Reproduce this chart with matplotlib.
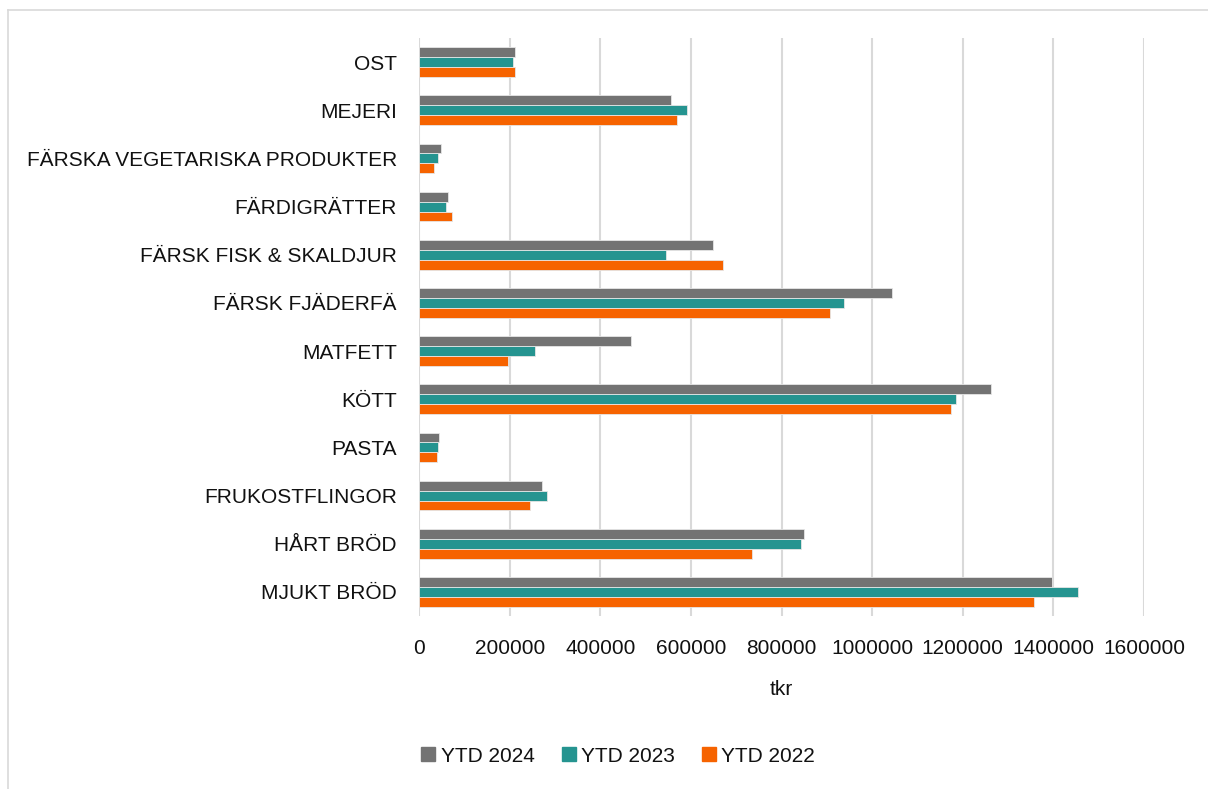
import matplotlib
matplotlib.use("Agg")
import matplotlib.pyplot as plt
import numpy as np
from matplotlib.lines import Line2D

categories = ["OST", "MEJERI", "FÄRSKA VEGETARISKA PRODUKTER", "FÄRDIGRÄTTER",
              "FÄRSK FISK & SKALDJUR", "FÄRSK FJÄDERFÄ", "MATFETT", "KÖTT",
              "PASTA", "FRUKOSTFLINGOR", "HÅRT BRÖD", "MJUKT BRÖD"]
ytd_2024 = [212000, 557000, 49000, 65000, 648000, 1044000, 468000, 1263000,
            44000, 271000, 850000, 1396000]
ytd_2023 = [208000, 592000, 43000, 60000, 546000, 938000, 255000, 1186000,
            42000, 282000, 842000, 1454000]
ytd_2022 = [211000, 570000, 32000, 73000, 671000, 906000, 197000, 1174000,
            40000, 246000, 735000, 1358000]
series_names = ["YTD 2024", "YTD 2023", "YTD 2022"]
xticks = [0, 200000, 400000, 600000, 800000, 1000000, 1200000, 1400000, 1600000]

colors = ["#737373", "#259490", "#F66300"]

plt.rcParams['font.family'] = ['Liberation Sans', 'DejaVu Sans']
FS = 15
TXT = "#111111"

W, H = 1208, 789
fig = plt.figure(figsize=(W / 100, H / 100), dpi=100)
left, right, top, bottom = 419, 1144, 38, 616
ax = fig.add_axes([left / W, 1 - bottom / H, (right - left) / W, (bottom - top) / H])

y = np.arange(len(categories))
bh = 0.205
for i, (vals, name) in enumerate(zip([ytd_2024, ytd_2023, ytd_2022], series_names)):
    ax.barh(y + (i - 1) * bh, vals, height=bh, color=colors[i], label=name,
            edgecolor="#e6e6e6", linewidth=0.6, zorder=3)

ax.set_ylim(len(categories) - 0.5, -0.5)
ax.set_xlim(0, 1600000)
ax.set_yticks(y)
ax.set_yticklabels(categories, fontsize=FS, color=TXT)
ax.set_xticks(xticks)
ax.set_xticklabels([str(v) for v in xticks], fontsize=FS, color=TXT)
ax.tick_params(axis="both", length=0)
ax.tick_params(axis="y", pad=16)
ax.tick_params(axis="x", pad=16.5)
ax.xaxis.grid(True, color="#d9d9d9", linewidth=1.5, zorder=0)
for s in ax.spines.values():
    s.set_visible(False)
ax.set_xlabel("tkr", fontsize=FS, color=TXT, labelpad=16)

handles = [plt.Rectangle((0, 0), 1, 1, color=c) for c in colors]
fig.legend(handles, series_names, loc="center", bbox_to_anchor=(618 / W, 1 - 756 / H),
           ncol=3, frameon=False, fontsize=FS, handlelength=0.67, handleheight=0.67,
           handletextpad=0.25, columnspacing=1.3, borderpad=0, labelcolor=TXT)

# outer chart frame
fig.add_artist(Line2D([8 / W, 8 / W], [0, 1 - 10 / H], color="#d9d9d9", linewidth=1.2,
                      transform=fig.transFigure))
fig.add_artist(Line2D([8 / W, 1], [1 - 10 / H, 1 - 10 / H], color="#d9d9d9", linewidth=1.2,
                      transform=fig.transFigure))

fig.savefig("out.png", dpi=100)
